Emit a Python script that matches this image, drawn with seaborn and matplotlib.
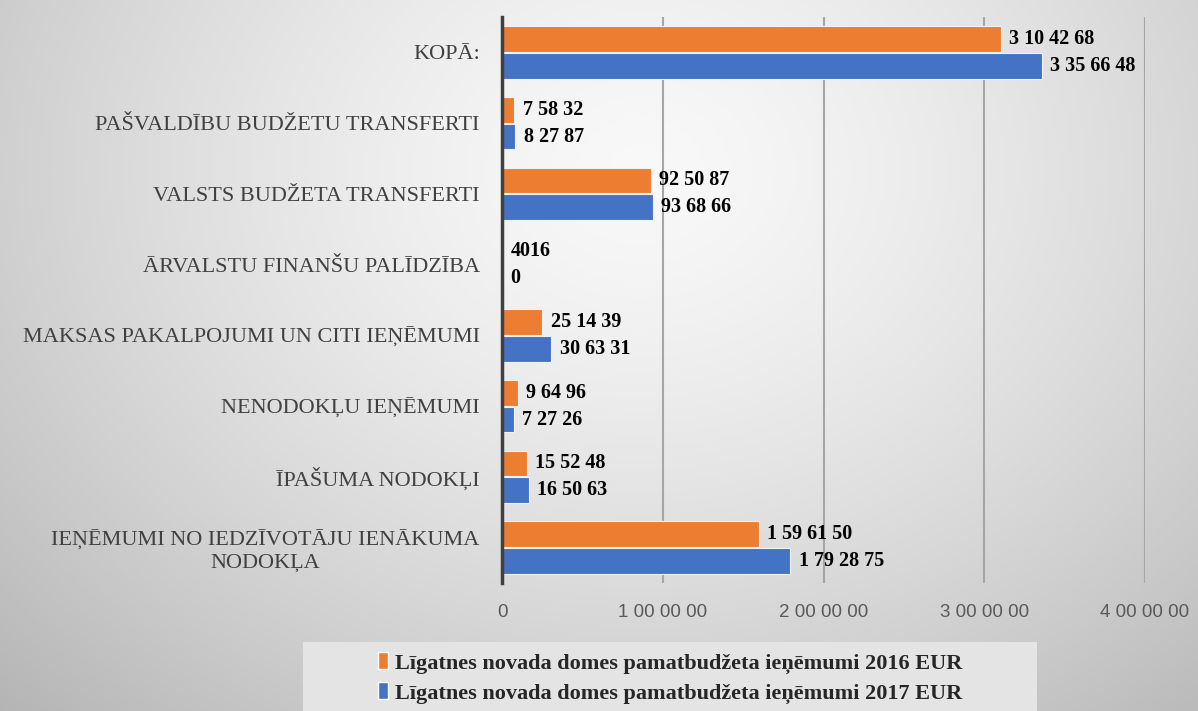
import numpy as np
import pandas as pd
import matplotlib
matplotlib.use("Agg")
import matplotlib.pyplot as plt
import seaborn as sns
from matplotlib.patches import Rectangle

categories = [
    "KOPĀ:",
    "PAŠVALDĪBU BUDŽETU TRANSFERTI",
    "VALSTS BUDŽETA TRANSFERTI",
    "ĀRVALSTU FINANŠU PALĪDZĪBA",
    "MAKSAS PAKALPOJUMI UN CITI IEŅĒMUMI",
    "NENODOKĻU IEŅĒMUMI",
    "ĪPAŠUMA NODOKĻI",
    "IEŅĒMUMI NO IEDZĪVOTĀJU IENĀKUMA\nNODOKĻA",
]
values_2016 = [3104268, 75832, 925087, 4016, 251439, 96496, 155248, 1596150]
values_2017 = [3356648, 82787, 936866, 0, 306331, 72726, 165063, 1792875]
series_names = [
    "Līgatnes novada domes pamatbudžeta ieņēmumi 2016 EUR",
    "Līgatnes novada domes pamatbudžeta ieņēmumi 2017 EUR",
]
x_ticks = [0, 1000000, 2000000, 3000000, 4000000]
colors = ["#ED7D31", "#4472C4"]


def fmt(v):
    v = int(round(v))
    if v < 10000:
        return str(v)
    s = str(v)
    groups = []
    while len(s) > 2:
        groups.insert(0, s[-2:])
        s = s[:-2]
    if s:
        groups.insert(0, s)
    return " ".join(groups)


df = pd.DataFrame({
    "category": categories * 2,
    "value": values_2016 + values_2017,
    "series": [series_names[0]] * len(categories) + [series_names[1]] * len(categories),
})

sns.set_style("white")
plt.rcParams["font.family"] = ["Liberation Serif", "DejaVu Serif"]

fig = plt.figure(figsize=(11.98, 7.11), dpi=100)

# background radial gradient
bg = fig.add_axes([0, 0, 1, 1], zorder=-10)
H, W = 711, 1198
yy, xx = np.mgrid[0:H, 0:W]
cx, cy = 640, 170
r = np.sqrt(((xx - cx) / 850.0) ** 2 + ((yy - cy) / 700.0) ** 2)
shade = 0.975 - 0.24 * np.clip(r, 0, 1.3) ** 1.4
bg.imshow(np.dstack([shade] * 3), aspect="auto", extent=[0, 1, 0, 1], origin="upper")
bg.axis("off")

ax = fig.add_axes([502 / 1198, 1 - 583 / 711, (1145 - 502) / 1198, (583 - 17) / 711])
ax.patch.set_alpha(0)

sns.barplot(
    data=df, y="category", x="value", hue="series", orient="h",
    order=categories, hue_order=series_names, palette=colors,
    width=0.76, gap=0.04, ax=ax, legend=False,
    edgecolor="#f2f2f2", linewidth=0.8, saturation=1,
)

ax.set_xlim(0, 4000000)
ax.set_xticks(x_ticks)
ax.set_xticklabels([fmt(t) if t else "0" for t in x_ticks],
                   family=["Liberation Sans Narrow", "Liberation Sans", "DejaVu Sans"],
                   fontsize=13.5, color="#595959")
ax.set_xlabel("")
ax.set_ylabel("")
ax.tick_params(axis="x", length=0, pad=15)
ax.tick_params(axis="y", length=0, pad=16)
for lab in ax.get_yticklabels():
    lab.set_fontsize(16)
    lab.set_color("#404040")
    lab.set_multialignment("center")
ax.grid(axis="x", color="#a6a6a6", linewidth=1.5)
ax.grid(axis="y", visible=False)
ax.set_axisbelow(True)
for s in ["top", "right", "bottom"]:
    ax.spines[s].set_visible(False)
ax.spines["left"].set_color("#404040")
ax.spines["left"].set_linewidth(2.5)
ax.spines["left"].set_zorder(5)

for container in ax.containers:
    labels = [fmt(b.get_width()) for b in container]
    ax.bar_label(container, labels=labels, padding=6, fontsize=14.5,
                 fontweight="bold", color="black")

# legend background box
fig.patches.append(Rectangle((303 / 1198, 0), (1037 - 303) / 1198, (711 - 642) / 711,
                             transform=fig.transFigure, facecolor="#e4e4e4",
                             edgecolor="none", zorder=-5))
handles = [Rectangle((0, 0), 1, 1, facecolor=c) for c in colors]
fig.legend(handles, series_names, loc="center", bbox_to_anchor=(670 / 1198, 1 - 678 / 711),
           frameon=False, ncol=1, handlelength=0.45, handleheight=0.8, handletextpad=0.3,
           labelspacing=0.4, prop={"family": ["Liberation Serif"], "weight": "bold", "size": 16})

fig.savefig("out.png", dpi=100)
